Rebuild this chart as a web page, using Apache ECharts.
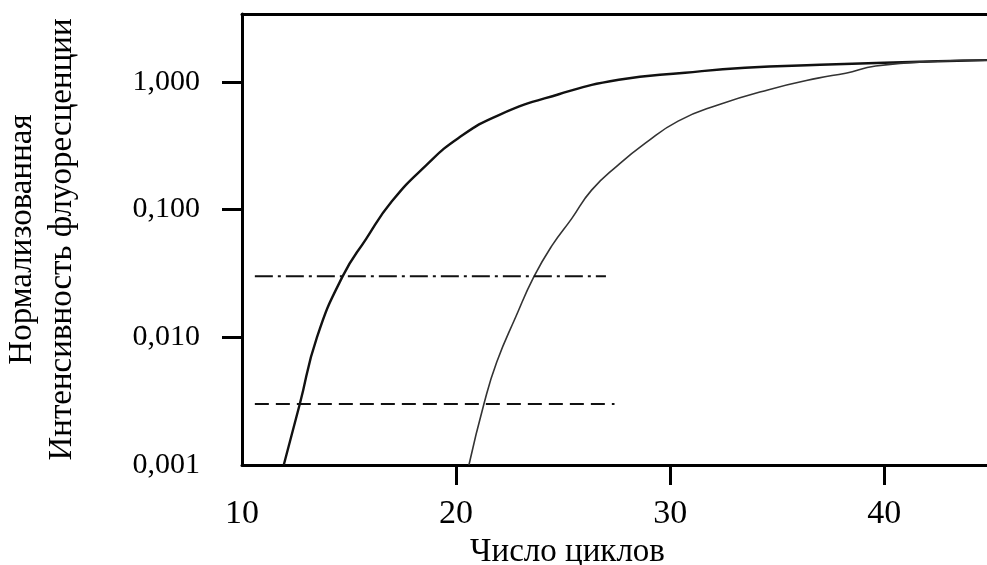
<!DOCTYPE html>
<html>
<head>
  <meta charset="utf-8" />
  <title>Нормализованная интенсивность флуоресценции</title>
  <script src="https://cdn.jsdelivr.net/npm/echarts@6/dist/echarts.min.js"></script>
</head>
<body style="margin:0;background:#fff;">
  <div id="chart" style="width:987px;height:565px;"></div>
  <script type="text/javascript">

    // Inline data
    let cyclesA = [11.95, 12.7, 13.5, 14.7, 15.8, 17.0, 18.6, 20.1, 22.0, 24.8, 27.6, 30.7, 33.5, 37.0, 40.0, 42.5, 44.8];
    let fluorA  = [0.001, 0.003, 0.010, 0.030, 0.059, 0.116, 0.222, 0.362, 0.55, 0.80, 1.04, 1.18, 1.29, 1.36, 1.41, 1.45, 1.48];
    let cyclesB = [20.6, 21.3, 21.9, 22.8, 23.63, 24.47, 25.4, 26.33, 27.58, 28.84, 30.37, 32.23, 34.56, 36.9, 38.2, 39.6, 42.5, 44.8];
    let fluorB  = [0.001, 0.003, 0.0064, 0.0146, 0.0297, 0.052, 0.085, 0.142, 0.224, 0.331, 0.493, 0.659, 0.865, 1.07, 1.17, 1.33, 1.45, 1.48];
    let thresholdHigh = 0.030;   // dash-dot
    let thresholdLow = 0.003;    // dashed
    let thresholdFrom = 10.6;
    let thresholdToHigh = 27.0;
    let thresholdToLow = 27.4;
    let xTicks = [10, 20, 30, 40];
    let yTicks = [0.001, 0.01, 0.1, 1];

    const font = 'Liberation Serif';
    const pairs = (xs, ys) => xs.map((x, i) => [x, ys[i]]);

    var chart = echarts.init(document.getElementById('chart'));

    var option = {
      animation: false,
      grid: { left: 242, top: 14, right: 0, bottom: 100, outerBoundsMode: 'none' },
      xAxis: [
        {
          type: 'value',
          min: 10,
          max: 44.8,
          name: 'Число циклов',
          nameLocation: 'middle',
          nameGap: 71,
          nameTextStyle: { fontFamily: font, fontSize: 33, color: '#000', padding: [0, 94, 0, 0] },
          axisLine: { lineStyle: { color: '#000', width: 3 } },
          axisTick: { customValues: [20, 30, 40], length: 20, lineStyle: { color: '#000', width: 3 } },
          axisLabel: {
            customValues: xTicks,
            margin: 32,
            fontFamily: font,
            fontSize: 34,
            color: '#000'
          },
          splitLine: { show: false }
        },
        {
          // top border of the frame
          type: 'value',
          position: 'top',
          min: 10,
          max: 44.8,
          axisLine: { lineStyle: { color: '#000', width: 3 } },
          axisTick: { show: false },
          axisLabel: { show: false },
          splitLine: { show: false }
        }
      ],
      yAxis: {
        type: 'log',
        logBase: 10,
        min: 0.001,
        max: 3.4,
        name: 'Нормализованная\nИнтенсивность флуоресценции',
        nameLocation: 'middle',
        nameRotate: 90,
        nameGap: 160,
        nameTextStyle: { fontFamily: font, fontSize: 33, lineHeight: 40, color: '#000' },
        axisLine: { show: true, lineStyle: { color: '#000', width: 3 } },
        axisTick: { customValues: [0.01, 0.1, 1], length: 20, lineStyle: { color: '#000', width: 3 } },
        axisLabel: {
          customValues: yTicks,
          margin: 42,
          fontFamily: font,
          fontSize: 30,
          color: '#000',
          formatter: v => v.toFixed(3).replace('.', ',')
        },
        splitLine: { show: false }
      },
      series: [
        {
          type: 'line',
          data: pairs(cyclesA, fluorA),
          smooth: 0.5,
          showSymbol: false,
          lineStyle: { color: '#111', width: 2.4 }
        },
        {
          type: 'line',
          data: pairs(cyclesB, fluorB),
          smooth: 0.5,
          showSymbol: false,
          lineStyle: { color: '#333', width: 1.6 }
        },
        {
          type: 'line',
          data: [[thresholdFrom, thresholdHigh], [thresholdToHigh, thresholdHigh]],
          showSymbol: false,
          lineStyle: { color: '#111', width: 2, type: [18, 5, 3, 5] }
        },
        {
          type: 'line',
          data: [[thresholdFrom, thresholdLow], [thresholdToLow, thresholdLow]],
          showSymbol: false,
          lineStyle: { color: '#111', width: 2, type: [14, 7] }
        }
      ]
    };

    chart.setOption(option);
  </script>
</body>
</html>
